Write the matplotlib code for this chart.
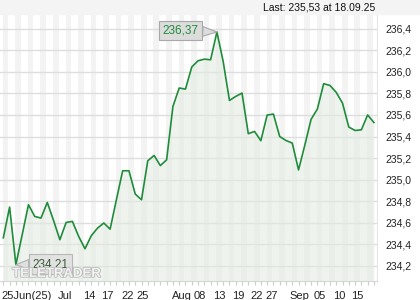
import matplotlib.pyplot as plt
import matplotlib.patheffects as pe
import numpy as np

# values (one per trading day)
prices = [234.46, 234.745, 234.21, 234.488, 234.767, 234.658, 234.643, 234.788,
          234.62, 234.442, 234.602, 234.612, 234.472, 234.358, 234.479, 234.55,
          234.597, 234.54, 234.813, 235.082, 235.082, 234.866, 234.813, 235.175,
          235.224, 235.13, 235.184, 235.679, 235.85, 235.84, 236.045, 236.103,
          236.118, 236.112, 236.37, 236.097, 235.735, 235.772, 235.803, 235.426,
          235.447, 235.361, 235.599, 235.608, 235.40, 235.363, 235.339, 235.09,
          235.32, 235.56, 235.655, 235.89, 235.874, 235.81, 235.71, 235.488,
          235.456, 235.462, 235.60, 235.53]

tick_pos = [3.66, 9.82, 13.76, 16.54, 19.86, 22.25, 28.4, 31.3, 34.35, 37.4,
            40.35, 42.7, 47.1, 50.4, 53.45, 56.3]
tick_labels = ['25Jun(25)', 'Jul', '14', '17', '22', '25', 'Aug', '08', '13',
               '19', '22', '27', 'Sep', '05', '10', '15']

y_ticks = [234.2, 234.4, 234.6, 234.8, 235.0, 235.2, 235.4, 235.6, 235.8,
           236.0, 236.2, 236.4]

last_text = 'Last: 235,53 at 18.09.25'
hi_label = '236,37'
lo_label = '234,21'

plt.rcParams['font.family'] = ['Liberation Sans', 'DejaVu Sans']

fig = plt.figure(figsize=(4.2, 3.0), dpi=100)
fig.patch.set_facecolor('white')
# light grey strip at the top
fig.patches.append(plt.Rectangle((0, 0.953), 1, 0.047, transform=fig.transFigure,
                                 color='#f4f4f4', zorder=0))
ax = fig.add_axes([0.0, 0.063, 0.897, 0.890])

x = np.arange(len(prices))
ymin, ymax = 234.058, 236.536
ax.set_xlim(-0.53, 59.45)
ax.set_ylim(ymin, ymax)

# alternating vertical stripes
for i in range(0, len(prices), 2):
    ax.axvspan(i - 0.1, i + 0.8, color='#f3f3f3', lw=0, zorder=0)

for v in y_ticks:
    ax.axhline(v, color='#dedede', lw=1, zorder=1)

ax.fill_between(x, prices, ymin, color='#e3ede1', alpha=0.6, lw=0, zorder=2)
ax.plot(x, prices, color='#1e8c3a', lw=1.2, zorder=3)

# high / low labels
imax = int(np.argmax(prices))
imin = int(np.argmin(prices))
ax.annotate(hi_label, xy=(x[imax], prices[imax]), xytext=(-26, 1),
            textcoords='offset points', ha='center', va='center',
            fontsize=8.5, color='#1e8c3a',
            bbox=dict(boxstyle='square,pad=0.3', fc='#dcdcdc', ec='#a8a8a8', lw=0.8),
            arrowprops=dict(arrowstyle='wedge,tail_width=0.35', mutation_scale=20,
                            fc='#dcdcdc', ec='#a8a8a8', lw=0.8, shrinkA=0, shrinkB=0),
            zorder=5)
ax.annotate(lo_label, xy=(x[imin], prices[imin]), xytext=(25, 0.5),
            textcoords='offset points', ha='center', va='center',
            fontsize=8.5, color='#3c5a3c',
            bbox=dict(boxstyle='square,pad=0.3', fc='#e0e0e0', ec='#b0b0b0', lw=0.8, alpha=0.85),
            arrowprops=dict(arrowstyle='wedge,tail_width=0.35', mutation_scale=20,
                            fc='#e0e0e0', ec='#b0b0b0', lw=0.8, shrinkA=0, shrinkB=0),
            zorder=5)

# watermark
ax.text(1.4, 234.125, 'TELETRADER', fontsize=9.5, color='#f2f2f2', fontweight='bold',
        ha='left', va='center', zorder=6,
        path_effects=[pe.withStroke(linewidth=1.2, foreground='#bdbdbd')])

ax.set_yticks(y_ticks)
ax.set_yticklabels([('%.1f' % v).replace('.', ',') for v in y_ticks])
ax.yaxis.tick_right()
ax.tick_params(axis='y', length=0, labelsize=7.5, pad=6, colors='#222222')

ax.set_xticks(x, minor=True)
ax.set_xticks(tick_pos)
ax.set_xticklabels(tick_labels)
ax.tick_params(axis='x', which='major', length=0, labelsize=8, pad=7, colors='#222222')
ax.tick_params(axis='x', which='minor', length=3, color='#cccccc', width=0.8)

for side in ['top', 'left']:
    ax.spines[side].set_visible(False)
ax.spines['bottom'].set_color('#d6d6d6')
ax.spines['right'].set_color('#e6e6e6')

fig.text(0.893, 0.976, last_text, ha='right', va='center', fontsize=7.5, color='#111111')

fig.savefig('out.png', dpi=100)
